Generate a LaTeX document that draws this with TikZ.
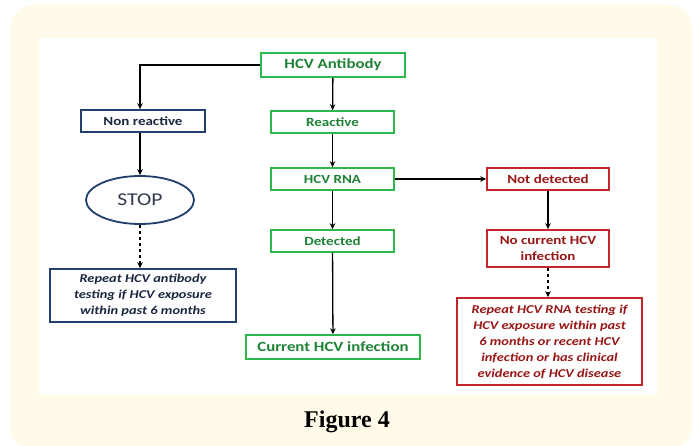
\documentclass[tikz,border=0pt]{standalone}
\usepackage{fontspec}
\setmainfont{Carlito}[FakeStretch=1.2]
\newfontfamily\capfont{Liberation Serif}
\usetikzlibrary{shapes.geometric, arrows.meta}
\definecolor{cream}{HTML}{FFFBE8}
\definecolor{boxgreen}{HTML}{2DB84D}
\definecolor{textgreen}{HTML}{1F8236}
\definecolor{boxnavy}{HTML}{223F6E}
\definecolor{textnavy}{HTML}{1B2740}
\definecolor{boxred}{HTML}{C3262B}
\definecolor{textred}{HTML}{981616}

\begin{document}
\begin{tikzpicture}[>={Stealth[length=6pt, width=5.5pt]}, x=1pt, y=-1pt, font=\bfseries,
  greenbox/.style={draw=boxgreen, line width=1.6pt, text=textgreen, inner sep=0pt, align=center},
  navybox/.style={draw=boxnavy, line width=1.6pt, text=textnavy, inner sep=0pt, align=center},
  redbox/.style={draw=boxred, line width=1.6pt, text=textred, inner sep=0pt, align=center},
  flow/.style={->, line width=1.3pt, black}]
  \useasboundingbox (0,0) rectangle (693,446);
  % frame of the figure
  \fill[cream, rounded corners=24pt] (10,5) rectangle (692,450);
  \fill[white] (39,38) rectangle (657,395);
  \node[font=\capfont\bfseries\fontsize{24}{28}\selectfont] (caption) at (347,422) {Figure 4};
  % middle column: antibody test and RNA test
  \node[greenbox, minimum width=144, minimum height=24, font=\bfseries\fontsize{14}{16}\selectfont] (antibody) at (333,65) {HCV Antibody};
  \node[greenbox, minimum width=123, minimum height=22, font=\bfseries\fontsize{12.5}{16}\selectfont] (reactive) at (332.5,122) {Reactive};
  \node[greenbox, minimum width=123, minimum height=22, font=\bfseries\fontsize{12.5}{16}\selectfont] (rna) at (332.5,179) {HCV RNA};
  \node[greenbox, minimum width=123, minimum height=22, font=\bfseries\fontsize{12.5}{16}\selectfont] (detected) at (332.5,241) {Detected};
  \node[greenbox, minimum width=174, minimum height=24, font=\bfseries\fontsize{14}{16}\selectfont] (current) at (333,347) {Current HCV infection};
  % left column: non reactive
  \node[navybox, minimum width=124, minimum height=22, font=\bfseries\fontsize{12.5}{16}\selectfont] (nonreactive) at (143,121) {Non reactive};
  \node[ellipse, draw=boxnavy, line width=1.8pt, text=textnavy!80!gray, minimum width=108, minimum height=48, inner sep=0pt, font=\mdseries\fontsize{18}{20}\selectfont] (stop) at (140,200) {STOP};
  \node[navybox, minimum width=186, minimum height=53, font=\bfseries\itshape\fontsize{12}{16}\selectfont] (repeatab) at (143,295.5) {Repeat HCV antibody\\testing if HCV exposure\\within past 6 months};
  % right column: RNA not detected
  \node[redbox, minimum width=122, minimum height=22, font=\bfseries\fontsize{12.5}{16}\selectfont] (notdetected) at (548,179) {Not detected};
  \node[redbox, minimum width=122, minimum height=37, font=\bfseries\fontsize{12.5}{16}\selectfont] (nocurrent) at (548,248.5) {No current HCV\\infection};
  \node[redbox, minimum width=185, minimum height=87, font=\bfseries\itshape\fontsize{12}{16}\selectfont] (repeatrna) at (549.5,341.5) {Repeat HCV RNA testing if\\HCV exposure within past\\6 months or recent HCV\\infection or has clinical\\evidence of HCV disease};
  % connectors
  \draw[flow] (antibody.west) -| (nonreactive.north -| stop.north);
  \draw[flow] (antibody) -- (reactive);
  \draw[flow] (reactive) -- (rna);
  \draw[flow] (rna) -- (detected);
  \draw[flow] (detected) -- (current);
  \draw[flow] (rna) -- (notdetected);
  \draw[flow] (notdetected) -- (nocurrent);
  \draw[flow] (nonreactive.south -| stop.north) -- (stop);
  \draw[flow, dashed] (stop) -- (repeatab.north -| stop.south);
  \draw[flow, dashed] (nocurrent) -- (repeatrna.north -| nocurrent.south);
\end{tikzpicture}
\end{document}
